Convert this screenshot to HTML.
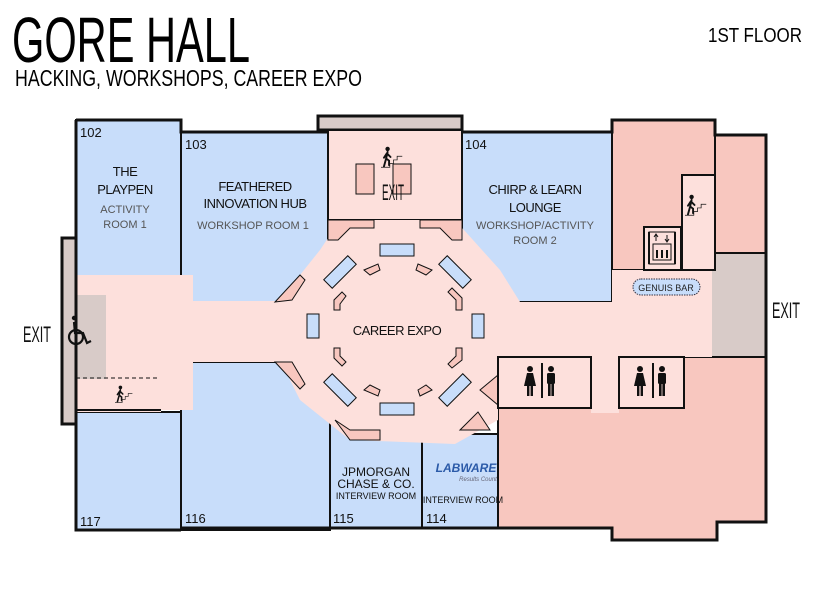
<!DOCTYPE html>
<html><head><meta charset="utf-8"><style>
html,body{margin:0;padding:0;background:#fff;width:828px;height:591px;overflow:hidden}
svg{display:block}
text{font-family:"Liberation Sans",sans-serif}
</style></head><body>
<svg width="828" height="591" viewBox="0 0 828 591" xmlns="http://www.w3.org/2000/svg">
<defs>
<symbol id="man" viewBox="0 0 10 30"><circle cx="5" cy="3" r="3"/><rect x="1" y="7" width="8" height="11" rx="1.5"/><rect x="2" y="17" width="2.6" height="13"/><rect x="5.4" y="17" width="2.6" height="13"/></symbol>
<symbol id="woman" viewBox="0 0 12 30"><circle cx="6" cy="3" r="3"/><polygon points="3,7 9,7 12,20 0,20"/><rect x="3" y="19" width="2.4" height="11"/><rect x="6.6" y="19" width="2.4" height="11"/></symbol>
<symbol id="stairs" viewBox="0 0 30 30"><circle cx="9" cy="4" r="3"/><path d="M9,8 L7,17 L4,28 M7,17 L11,20 L11,26 M8,10 L13,15 M8,10 L4,16" stroke="#111" stroke-width="2.6" fill="none" stroke-linecap="round"/><path d="M0,29 L12,29 L12,24 L17,24 L17,19 L22,19 L22,14 L29,14" stroke="#111" stroke-width="1" fill="none"/></symbol>
</defs>
<rect width="828" height="591" fill="#fff"/>
<text x="12" y="62" font-size="64" textLength="238" lengthAdjust="spacingAndGlyphs">GORE HALL</text>
<text x="15" y="86" font-size="23" textLength="347" lengthAdjust="spacingAndGlyphs">HACKING, WORKSHOPS, CAREER EXPO</text>
<text x="708" y="42" font-size="20" textLength="94" lengthAdjust="spacingAndGlyphs">1ST FLOOR</text>

<rect x="62" y="238" width="16" height="186" fill="#d8cbc8" stroke="#111" stroke-width="3"/>
<rect x="318" y="116" width="144" height="14" fill="#d8cbc8" stroke="#111" stroke-width="3"/>
<rect x="712" y="253" width="54" height="104" fill="#d8cbc8"/>

<g fill="#c8ddfa" stroke="#111" stroke-width="2">
<rect x="76" y="120" width="105" height="158"/>
<rect x="181" y="132" width="147" height="170"/>
<rect x="76" y="412" width="105" height="118"/>
<rect x="181" y="362" width="149" height="168"/>
<rect x="330" y="420" width="92" height="108"/>
<rect x="422" y="434" width="84" height="94"/>
<polygon points="462,132 612,132 612,302 515,302 462,245"/>
</g>

<g fill="#f8c7bf" stroke="#111" stroke-width="2">
<rect x="612" y="120" width="103" height="150"/>
<rect x="715" y="135" width="51" height="118"/>
<polygon points="498,357 766,357 766,522 717,522 717,540 612,540 612,528 498,528"/>
</g>
<g fill="#fde0dc">
<rect x="328" y="130" width="134" height="90" stroke="#111" stroke-width="2"/>
<rect x="76" y="275" width="117" height="135"/>
<rect x="76" y="378" width="85" height="34"/>
<rect x="190" y="301" width="100" height="61"/>
<polygon points="340,220 455,220 500,270 520,302 612,302 612,357 498,357 498,420 455,444 350,440 300,400 280,360 280,300 320,250"/>
<rect x="612" y="270" width="100" height="87"/>
<rect x="682" y="175" width="33" height="95" stroke="#111" stroke-width="2"/>
<rect x="591" y="357" width="28" height="56"/>
</g>
<rect x="76" y="295" width="30" height="84" fill="#d8cbc8"/>
<line x1="76" y1="378" x2="160" y2="378" stroke="#111" stroke-width="1" stroke-dasharray="4 3"/>
<line x1="76" y1="410" x2="161" y2="410" stroke="#111" stroke-width="2"/>
<polygon points="340,240 455,240 510,288 510,378 455,432 340,432 290,378 290,288" fill="#fde0dc"/>
<g fill="#f8c7bf" stroke="#111" stroke-width="1">
<polygon points="328,220 374,220 374,228 350,228 338,240 328,240"/>
<polygon points="420,220 462,220 462,240 452,240 440,228 420,228"/>
<polygon points="275,302 300,275 305,280 292,300"/>
<polygon points="275,362 300,389 305,384 292,362"/>
<polygon points="335,420 350,440 380,440 380,430 350,430"/>
<polygon points="460,430 478,412 490,430"/>
<polygon points="498,375 480,390 498,405"/>
<rect x="356" y="164" width="18" height="30"/>
<rect x="393" y="164" width="18" height="30"/>
</g>
<g fill="#c8ddfa" stroke="#111" stroke-width="1">
<rect x="380" y="244" width="34" height="12"/>
<rect x="380" y="403" width="34" height="12"/>
<rect x="307" y="314" width="12" height="24"/>
<rect x="472" y="314" width="12" height="24"/>
<rect x="323" y="266" width="34" height="12" transform="rotate(-45 340 272)"/>
<rect x="438" y="266" width="34" height="12" transform="rotate(45 455 272)"/>
<rect x="323" y="384" width="34" height="12" transform="rotate(45 340 390)"/>
<rect x="438" y="384" width="34" height="12" transform="rotate(-45 455 390)"/>
</g>
<g fill="#f8c7bf" stroke="#111" stroke-width="1">
<polygon points="364,270 378,264 380,270 370,275"/>
<polygon points="418,264 432,270 426,275 416,270"/>
<polygon points="334,300 342,292 346,296 340,304 340,310 334,310"/>
<polygon points="456,300 448,292 452,288 462,298 462,310 456,310"/>
<polygon points="334,348 340,348 340,356 346,362 342,366 334,358"/>
<polygon points="456,348 462,348 462,360 452,368 448,364 456,356"/>
<polygon points="364,390 370,385 380,390 378,396"/>
<polygon points="418,390 426,385 432,390 420,396"/>
</g>
<g fill="#fde0dc" stroke="#111" stroke-width="2">
<rect x="498" y="357" width="93" height="51"/>
<rect x="619" y="357" width="65" height="51"/>
<rect x="644" y="227" width="37" height="43"/>
</g>
<g stroke="#111" stroke-width="3" fill="none">
<polyline points="76,120 181,120 181,132 328,132"/>
<polyline points="462,132 612,132 612,120 715,120 715,135 766,135 766,522 717,522 717,540 612,540 612,528 181,528"/>
<polyline points="76,120 76,530 181,530"/>
</g>
<rect x="633" y="279" width="67" height="16" rx="8" fill="#c8ddfa" stroke="#334" stroke-dasharray="1.5 1"/>
<text x="666" y="291" font-size="9" text-anchor="middle" fill="#222">GENUIS BAR</text>

<g font-size="13" fill="#111">
<text x="80" y="137">102</text><text x="185" y="149">103</text><text x="465" y="149">104</text>
<text x="80" y="526">117</text><text x="185" y="523">116</text><text x="333" y="523">115</text><text x="426" y="523">114</text>
</g>
<g font-size="13" fill="#111" text-anchor="middle" letter-spacing="-0.5">
<text x="125" y="176">THE</text><text x="125" y="194">PLAYPEN</text>
<text x="255" y="191">FEATHERED</text><text x="255" y="208">INNOVATION HUB</text>
<text x="535" y="194">CHIRP &amp; LEARN</text><text x="535" y="212">LOUNGE</text>
<text x="397" y="335">CAREER EXPO</text>
</g>
<g font-size="11" fill="#555" text-anchor="middle">
<text x="125" y="213">ACTIVITY</text><text x="125" y="228">ROOM 1</text>
<text x="253" y="229">WORKSHOP ROOM 1</text>
<text x="535" y="229">WORKSHOP/ACTIVITY</text><text x="535" y="244">ROOM 2</text>
</g>
<g fill="#111" text-anchor="middle">
<text x="376" y="476" font-family="Liberation Serif" font-size="12">JPMORGAN</text>
<text x="376" y="488" font-family="Liberation Serif" font-size="12">CHASE &amp; CO.</text>
<text x="376" y="499" font-size="9">INTERVIEW ROOM</text>
<text x="463" y="503" font-size="9">INTERVIEW ROOM</text>
<text x="466" y="472" font-size="12" font-weight="bold" fill="#2b5aa8" font-style="italic">LABWARE</text>
<text x="478" y="481" font-size="6" fill="#667" font-style="italic">Results Count</text>
</g>
<g font-size="22" fill="#111" text-anchor="middle">
<text x="393" y="200" textLength="22" lengthAdjust="spacingAndGlyphs">EXIT</text>
<text x="37" y="342" textLength="28" lengthAdjust="spacingAndGlyphs">EXIT</text>
<text x="786" y="318" textLength="28" lengthAdjust="spacingAndGlyphs">EXIT</text>
</g>
<g fill="#111">
<use href="#stairs" x="381" y="146" width="22" height="22"/>
<use href="#stairs" x="685" y="194" width="22" height="22"/>
<use href="#stairs" x="115" y="385" width="18" height="18"/>
<use href="#woman" x="524" y="366" width="12" height="30"/>
<use href="#man" x="546" y="366" width="10" height="30"/>
<use href="#woman" x="634" y="366" width="12" height="30"/>
<use href="#man" x="657" y="366" width="10" height="30"/>
<rect x="541" y="363" width="2" height="35"/>
<rect x="652" y="363" width="2" height="35"/>
</g>
<g stroke="#111" stroke-width="2.2" fill="none">
<circle cx="76" cy="337" r="7"/>
<path d="M74,322 L75,333 L83,333 L87,343 L91,341"/>
</g>
<circle cx="74" cy="318" r="2.2" fill="#111"/>
<g stroke="#111" fill="none">
<rect x="649" y="232" width="26" height="32" stroke-width="1"/>
<line x1="649" y1="232" x2="649" y2="264" stroke-width="2"/>
<line x1="675" y1="232" x2="675" y2="264" stroke-width="2"/>
<rect x="653" y="244" width="18" height="16"/>
<path d="M656,241 v-6 M654,237 l2,-3 l2,3 M667,235 v6 M665,239 l2,3 l2,-3"/>
</g>
<g fill="#111"><rect x="656" y="250" width="2" height="8"/><rect x="661" y="250" width="2" height="8"/><rect x="666" y="250" width="2" height="8"/></g>
</svg>
</body></html>
